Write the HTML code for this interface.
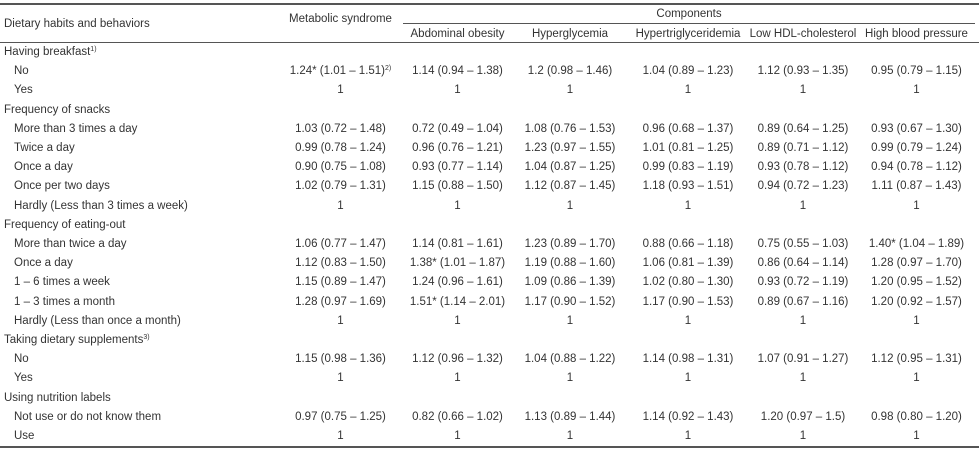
<!DOCTYPE html>
<html><head><meta charset="utf-8">
<style>
body{margin:0;background:#fff;}
#t{position:relative;width:979px;height:450px;font-family:"Liberation Sans",sans-serif;font-size:11.5px;color:#333;overflow:hidden}
.c{position:absolute;white-space:nowrap;text-align:center;line-height:12px}
.l{position:absolute;white-space:nowrap;line-height:12px}
.hr{position:absolute;background:#555}
sup{font-size:7px;vertical-align:4px;line-height:0}
</style></head><body>
<div id="t"></div>
<script>
const cols=[[278,403],[403,512],[512,628],[628,748],[748,858],[858,975]];
const headers=["Metabolic syndrome","Abdominal obesity","Hyperglycemia","Hypertriglyceridemia","Low HDL-cholesterol","High blood pressure"];
const rows=[
["Having breakfast<sup>1)</sup>",0],
["No",1,["1.24* (1.01 – 1.51)<sup>2)</sup>","1.14 (0.94 – 1.38)","1.2 (0.98 – 1.46)","1.04 (0.89 – 1.23)","1.12 (0.93 – 1.35)","0.95 (0.79 – 1.15)"]],
["Yes",1,["1","1","1","1","1","1"]],
["Frequency of snacks",0],
["More than 3 times a day",1,["1.03 (0.72 – 1.48)","0.72 (0.49 – 1.04)","1.08 (0.76 – 1.53)","0.96 (0.68 – 1.37)","0.89 (0.64 – 1.25)","0.93 (0.67 – 1.30)"]],
["Twice a day",1,["0.99 (0.78 – 1.24)","0.96 (0.76 – 1.21)","1.23 (0.97 – 1.55)","1.01 (0.81 – 1.25)","0.89 (0.71 – 1.12)","0.99 (0.79 – 1.24)"]],
["Once a day",1,["0.90 (0.75 – 1.08)","0.93 (0.77 – 1.14)","1.04 (0.87 – 1.25)","0.99 (0.83 – 1.19)","0.93 (0.78 – 1.12)","0.94 (0.78 – 1.12)"]],
["Once per two days",1,["1.02 (0.79 – 1.31)","1.15 (0.88 – 1.50)","1.12 (0.87 – 1.45)","1.18 (0.93 – 1.51)","0.94 (0.72 – 1.23)","1.11 (0.87 – 1.43)"]],
["Hardly (Less than 3 times a week)",1,["1","1","1","1","1","1"]],
["Frequency of eating-out",0],
["More than twice a day",1,["1.06 (0.77 – 1.47)","1.14 (0.81 – 1.61)","1.23 (0.89 – 1.70)","0.88 (0.66 – 1.18)","0.75 (0.55 – 1.03)","1.40* (1.04 – 1.89)"]],
["Once a day",1,["1.12 (0.83 – 1.50)","1.38* (1.01 – 1.87)","1.19 (0.88 – 1.60)","1.06 (0.81 – 1.39)","0.86 (0.64 – 1.14)","1.28 (0.97 – 1.70)"]],
["1 – 6 times a week",1,["1.15 (0.89 – 1.47)","1.24 (0.96 – 1.61)","1.09 (0.86 – 1.39)","1.02 (0.80 – 1.30)","0.93 (0.72 – 1.19)","1.20 (0.95 – 1.52)"]],
["1 – 3 times a month",1,["1.28 (0.97 – 1.69)","1.51* (1.14 – 2.01)","1.17 (0.90 – 1.52)","1.17 (0.90 – 1.53)","0.89 (0.67 – 1.16)","1.20 (0.92 – 1.57)"]],
["Hardly (Less than once a month)",1,["1","1","1","1","1","1"]],
["Taking dietary supplements<sup>3)</sup>",0],
["No",1,["1.15 (0.98 – 1.36)","1.12 (0.96 – 1.32)","1.04 (0.88 – 1.22)","1.14 (0.98 – 1.31)","1.07 (0.91 – 1.27)","1.12 (0.95 – 1.31)"]],
["Yes",1,["1","1","1","1","1","1"]],
["Using nutrition labels",0],
["Not use or do not know them",1,["0.97 (0.75 – 1.25)","0.82 (0.66 – 1.02)","1.13 (0.89 – 1.44)","1.14 (0.92 – 1.43)","1.20 (0.97 – 1.5)","0.98 (0.80 – 1.20)"]],
["Use",1,["1","1","1","1","1","1"]]
];
const T=document.getElementById('t');
function hr(x,y,w,h,n){const d=document.createElement('div');d.className='hr';


d.style.cssText=`left:${x}px;top:${y}px;width:${w}px;height:${h}px`;T.appendChild(d);}
function txt(cls,x,y,w,html,n){const d=document.createElement('div');d.className=cls;


d.style.left=x+'px';d.style.top=(y-6)+'px';if(w)d.style.width=w+'px';d.innerHTML=html;T.appendChild(d);}
hr(0,3,979,1.5,'top-rule');
hr(403,23,572,1,'components-rule');
hr(0,42,979,1,'header-rule');
hr(0,446,979,1.5,'bottom-rule');
txt('l',4,24,0,'Dietary habits and behaviors','header-dietary');
txt('c',278,19,125,headers[0],'header-metabolic');
txt('c',403,14,572,'Components','header-components');
for(let i=1;i<6;i++)txt('c',cols[i][0],34,cols[i][1]-cols[i][0],headers[i],'header-'+headers[i].toLowerCase().replace(/[^a-z]+/g,'-'));
rows.forEach((r,i)=>{const y=52+i*19.2;
 txt('l',r[1]?14:4,y,0,r[0],r[1]?'row-label':'group-label');
 if(r[2])r[2].forEach((v,j)=>txt('c',cols[j][0],y,cols[j][1]-cols[j][0],v,'cell'));
});
</script>
</body></html>
